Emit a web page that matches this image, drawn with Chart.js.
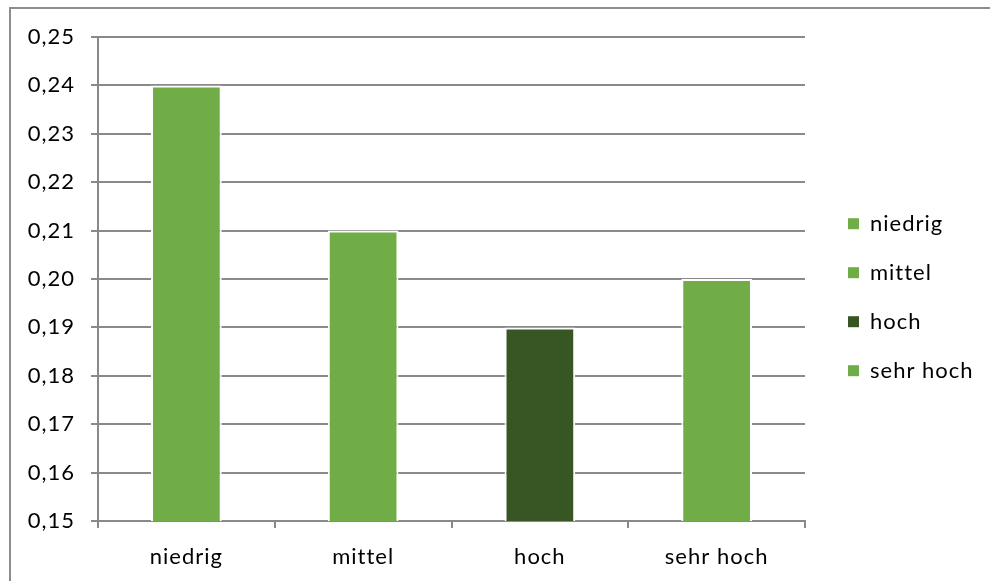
<!DOCTYPE html>
<html>
<head>
<meta charset="utf-8">
<script src="https://cdn.jsdelivr.net/npm/chart.js@4/dist/chart.umd.min.js"></script>
<style>
  body { margin: 0; background: #fff; }
  #wrap { position: relative; width: 990px; height: 581px; overflow: hidden; }
  #frame { position: absolute; left: 9px; top: 7px; width: 1000px; height: 600px; border: 2px solid #8d8d8d; }
  canvas { position: absolute; left: 0; top: 0; }
</style>
</head>
<body>
<div id="wrap">
  <div id="frame"></div>
  <canvas id="chart" width="990" height="581"></canvas>
</div>
<script>
// categories and values
const categories = ['niedrig', 'mittel', 'hoch', 'sehr hoch'];
const values = [0.24, 0.21, 0.19, 0.20];
const barColors = ['#70ad47', '#70ad47', '#375623', '#70ad47'];

const yMin = 0.15;
const yMax = 0.25;
const yStep = 0.01;

const GRID = '#898989';

Chart.defaults.font.family = 'Lato';
Chart.defaults.font.size = 22;
Chart.defaults.color = '#000';

// the original text is a bit spaced out
const spacing = {
  id: 'spacing',
  beforeLayout(chart) { chart.ctx.letterSpacing = '1px'; },
  beforeDraw(chart) { chart.ctx.letterSpacing = '1px'; }
};

// legend needs a fixed width so the boxes line up with the picture
const legendWidth = {
  id: 'legendWidth',
  beforeLayout(chart) {
    const lg = chart.legend;
    if (lg && !lg.patched) {
      const fit = lg.fit;
      lg.fit = function () {
        fit.call(this);
        this.width = 169;
      };
      lg.patched = true;
    }
  }
};

new Chart(document.getElementById('chart'), {
  type: 'bar',
  data: {
    labels: categories,
    datasets: [{
      data: values,
      backgroundColor: barColors,
      borderColor: '#fff',
      borderWidth: 2,
      categoryPercentage: 1,
      barPercentage: 0.4
    }]
  },
  options: {
    responsive: false,
    animation: false,
    devicePixelRatio: 1,
    layout: {
      padding: { left: 10, top: 37, right: 0, bottom: 0 }
    },
    scales: {
      x: {
        grid: {
          drawOnChartArea: false,
          drawTicks: true,
          tickLength: 7,
          color: GRID,
          lineWidth: 2
        },
        border: { color: GRID, width: 2 },
        ticks: { padding: 16, font: { size: 22 } },
        afterFit(s) { s.height = 60; }
      },
      y: {
        min: yMin,
        max: yMax,
        grid: {
          color: GRID,
          lineWidth: 2,
          tickLength: 7
        },
        border: { color: GRID, width: 2 },
        ticks: {
          stepSize: yStep,
          padding: 16,
          font: { size: 22 },
          callback: v => v.toFixed(2).replace('.', ',')
        },
        afterFit(s) { s.width = 88; }
      },
      gap: {
        position: 'right',
        grid: { display: false },
        border: { display: false },
        ticks: { display: false },
        afterFit(s) { s.width = 16; }
      }
    },
    plugins: {
      tooltip: { enabled: false },
      legend: {
        position: 'right',
        fullSize: false,
        // empty title only pushes the items down
        title: { display: true, text: ' ', padding: 5, font: { size: 22 } },
        labels: {
          boxWidth: 11,
          boxHeight: 11,
          padding: 27,
          generateLabels: () => categories.map((c, i) => ({
            text: c,
            fillStyle: barColors[i],
            strokeStyle: barColors[i],
            lineWidth: 0,
            index: i
          }))
        }
      }
    }
  },
  plugins: [spacing, legendWidth]
});
</script>
</body>
</html>
